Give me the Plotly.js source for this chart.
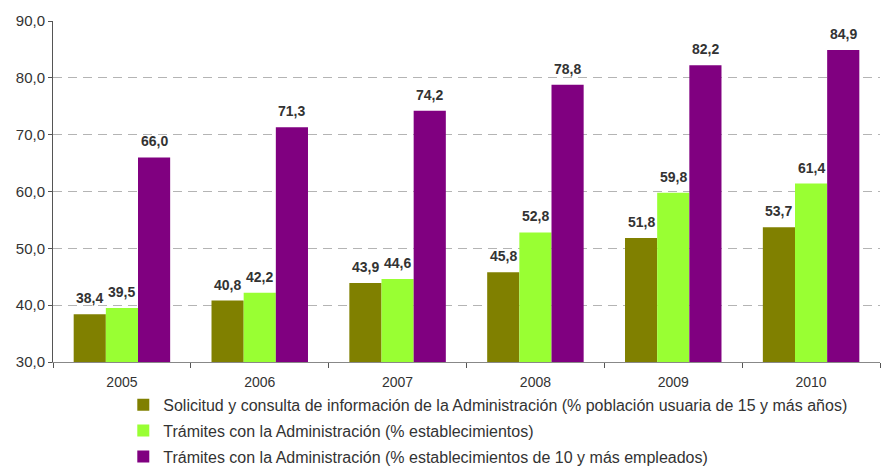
<!DOCTYPE html>
<html><head><meta charset="utf-8">
<script src="https://cdn.plot.ly/plotly-3.0.1.min.js"></script>
<style>body{margin:0;background:#fff}</style>
</head><body>
<div id="chart" style="width:888px;height:466px"></div>
<script>
const years = ['2005','2006','2007','2008','2009','2010'];
const solicitud = [38.4, 40.8, 43.9, 45.8, 51.8, 53.7];
const tramites = [39.5, 42.2, 44.6, 52.8, 59.8, 61.4];
const tramites10 = [66.0, 71.3, 74.2, 78.8, 82.2, 84.9];
const names = [
  'Solicitud y consulta de información de la Administración (% población usuaria de 15 y más años)',
  'Trámites con la Administración (% establecimientos)',
  'Trámites con la Administración (% establecimientos de 10 y más empleados)'
];
const colors = ['#808000', '#99FF33', '#800080'];
const series = [solicitud, tramites, tramites10];
const bargap = 0.3;
const barW = (1 - bargap) / series.length;
const traces = series.map((s, i) => ({
  type: 'bar', x: years, y: s, name: names[i], legendgroup: 'g' + i,
  marker: {color: colors[i], line: {width: 0}}
}));
const annotations = [];
series.forEach((s, i) => {
  s.forEach((v, j) => {
    annotations.push({
      x: j + (i - (series.length - 1) / 2) * barW, y: v,
      xref: 'x', yref: 'y', text: v.toFixed(1).replace('.', ','),
      showarrow: false, yanchor: 'bottom', yshift: 6,
      font: {family: 'Liberation Sans, Arial', size: 14, color: '#333333', weight: 'bold'}
    });
  });
});
const layout = {
  width: 888, height: 466,
  margin: {l: 53, r: 8, t: 21, b: 104, autoexpand: false},
  separators: ',.',
  barmode: 'group', bargap: bargap, bargroupgap: 0,
  plot_bgcolor: '#fff', paper_bgcolor: '#fff',
  font: {family: 'Liberation Sans, Arial', size: 13, color: '#333333'},
  xaxis: {
    type: 'category', range: [-0.5, years.length - 0.5],
    showline: true, linecolor: '#888888', linewidth: 1,
    ticks: 'outside', tickson: 'boundaries', ticklen: 5, tickcolor: '#555',
    ticklabelstandoff: 7,
    tickfont: {size: 14, color: '#333'}
  },
  yaxis: {
    range: [30, 90], dtick: 10, tickformat: '.1f',
    showline: true, linecolor: '#555555', linewidth: 1,
    ticks: 'outside', ticklen: 4, tickcolor: '#555',
    gridcolor: '#b4b4b4', griddash: '9px,6px', gridwidth: 1,
    zeroline: false,
    tickfont: {size: 15, color: '#333'}
  },
  annotations: annotations,
  showlegend: true,
  legend: {
    x: 0.085, xanchor: 'left', y: -0.076, yanchor: 'top',
    traceorder: 'grouped', tracegroupgap: 2,
    font: {size: 16, color: '#333'},
    itemwidth: 30, bgcolor: 'rgba(0,0,0,0)'
  }
};
Plotly.newPlot('chart', traces, layout, {displayModeBar: false, staticPlot: true});
</script>
</body></html>
